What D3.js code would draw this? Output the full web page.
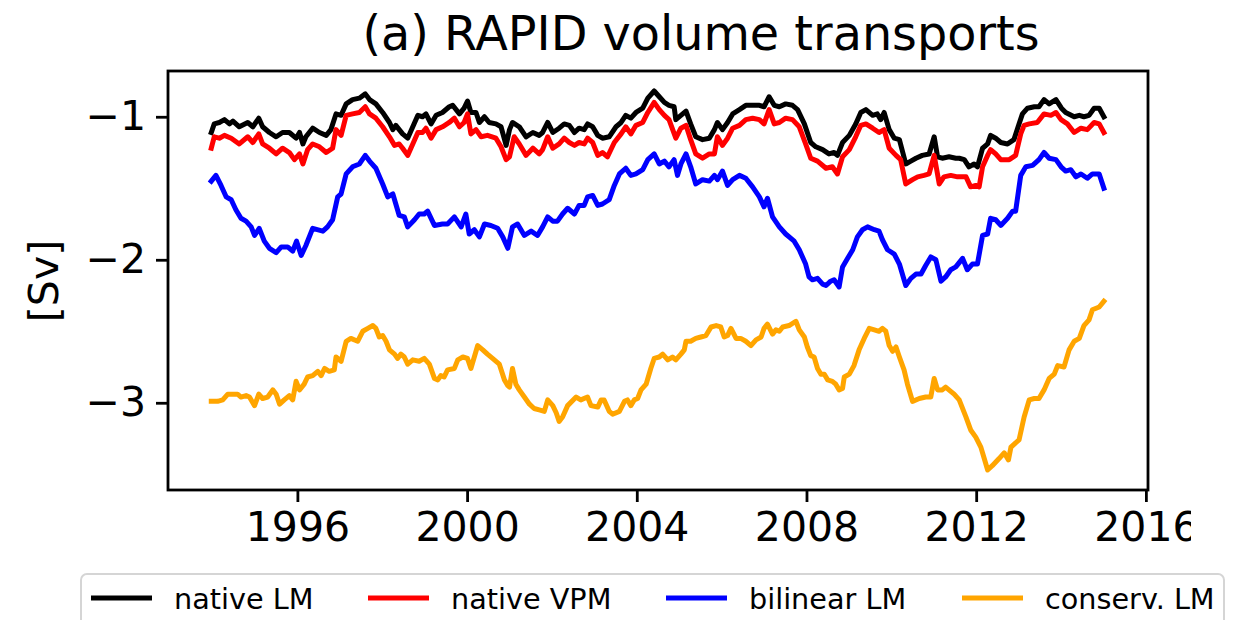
<!DOCTYPE html>
<html>
<head>
<meta charset="utf-8">
<script src="https://cdn.jsdelivr.net/npm/d3@7"></script>
<style>
  body { margin: 0; background: white; }
  text { font-family: "DejaVu Sans", sans-serif; }
</style>
</head>
<body>
<div id="main"></div>
<script>
const FIG_W = 1237;
const FIG_H = 620;

// series, [year, Sv]
var nativeLM = [[1993.97,-1.11],[1994.04,-1.05],[1994.16,-1.04],[1994.28,-1.02],[1994.40,-1.05],[1994.48,-1.03],[1994.63,-1.07],[1994.83,-1.04],[1994.95,-1.07],[1995.09,-1.01],[1995.18,-1.07],[1995.34,-1.11],[1995.50,-1.14],[1995.65,-1.11],[1995.81,-1.11],[1995.97,-1.15],[1996.05,-1.11],[1996.13,-1.19],[1996.20,-1.14],[1996.36,-1.08],[1996.52,-1.11],[1996.68,-1.13],[1996.79,-1.09],[1996.91,-0.98],[1997.03,-0.99],[1997.15,-0.91],[1997.30,-0.88],[1997.46,-0.87],[1997.60,-0.84],[1997.70,-0.88],[1997.85,-0.91],[1998.01,-0.97],[1998.17,-1.04],[1998.25,-1.09],[1998.32,-1.06],[1998.48,-1.12],[1998.60,-1.15],[1998.72,-1.07],[1998.84,-0.99],[1998.95,-1.00],[1999.03,-0.98],[1999.15,-1.05],[1999.27,-0.99],[1999.42,-0.97],[1999.58,-0.93],[1999.66,-0.92],[1999.82,-0.98],[1999.93,-0.94],[2000.01,-0.89],[2000.09,-0.97],[2000.21,-0.97],[2000.29,-1.04],[2000.41,-1.00],[2000.52,-1.04],[2000.68,-1.05],[2000.80,-1.07],[2000.92,-1.20],[2001.00,-1.09],[2001.07,-1.04],[2001.23,-1.07],[2001.39,-1.14],[2001.55,-1.11],[2001.70,-1.13],[2001.78,-1.11],[2001.90,-1.04],[2002.02,-1.11],[2002.17,-1.08],[2002.29,-1.05],[2002.41,-1.06],[2002.53,-1.11],[2002.64,-1.08],[2002.76,-1.09],[2002.84,-1.05],[2002.96,-1.07],[2003.08,-1.13],[2003.19,-1.15],[2003.35,-1.14],[2003.51,-1.07],[2003.63,-1.04],[2003.74,-0.99],[2003.86,-1.01],[2003.98,-0.97],[2004.14,-0.94],[2004.26,-0.87],[2004.41,-0.82],[2004.53,-0.86],[2004.65,-0.90],[2004.76,-0.92],[2004.88,-0.93],[2004.92,-1.02],[2005.04,-0.99],[2005.16,-0.96],[2005.27,-1.05],[2005.39,-1.14],[2005.55,-1.16],[2005.71,-1.15],[2005.83,-1.09],[2005.90,-1.04],[2006.02,-1.09],[2006.14,-1.04],[2006.26,-0.98],[2006.42,-0.95],[2006.57,-0.92],[2006.73,-0.92],[2006.89,-0.92],[2007.00,-0.93],[2007.12,-0.86],[2007.24,-0.92],[2007.36,-0.93],[2007.51,-0.91],[2007.67,-0.92],[2007.79,-0.95],[2007.95,-1.05],[2008.10,-1.18],[2008.22,-1.21],[2008.38,-1.23],[2008.53,-1.26],[2008.65,-1.25],[2008.73,-1.27],[2008.85,-1.18],[2009.01,-1.13],[2009.16,-1.05],[2009.28,-0.97],[2009.40,-0.95],[2009.56,-0.99],[2009.67,-0.98],[2009.75,-1.02],[2009.83,-0.97],[2009.95,-1.09],[2010.07,-1.15],[2010.19,-1.16],[2010.34,-1.33],[2010.46,-1.31],[2010.58,-1.29],[2010.73,-1.27],[2010.89,-1.26],[2011.01,-1.14],[2011.09,-1.28],[2011.20,-1.29],[2011.36,-1.28],[2011.52,-1.29],[2011.60,-1.29],[2011.72,-1.30],[2011.83,-1.35],[2011.95,-1.33],[2012.03,-1.35],[2012.15,-1.22],[2012.27,-1.19],[2012.34,-1.13],[2012.46,-1.15],[2012.58,-1.18],[2012.74,-1.19],[2012.89,-1.16],[2013.01,-1.05],[2013.09,-0.98],[2013.21,-0.94],[2013.37,-0.93],[2013.48,-0.93],[2013.60,-0.88],[2013.72,-0.91],[2013.88,-0.88],[2014.01,-0.94],[2014.11,-0.97],[2014.31,-1.00],[2014.43,-0.99],[2014.54,-1.00],[2014.66,-0.99],[2014.78,-0.94],[2014.90,-0.94],[2015.01,-1.00]];

var nativeVPM = [[1993.97,-1.22],[1994.04,-1.14],[1994.16,-1.15],[1994.28,-1.13],[1994.44,-1.15],[1994.63,-1.19],[1994.83,-1.14],[1994.95,-1.18],[1995.09,-1.12],[1995.18,-1.19],[1995.34,-1.22],[1995.50,-1.26],[1995.65,-1.22],[1995.81,-1.25],[1995.93,-1.30],[1996.05,-1.26],[1996.13,-1.33],[1996.24,-1.23],[1996.36,-1.19],[1996.52,-1.21],[1996.68,-1.25],[1996.83,-1.22],[1996.91,-1.09],[1997.03,-1.13],[1997.15,-0.99],[1997.30,-0.98],[1997.46,-0.97],[1997.60,-0.93],[1997.70,-0.98],[1997.85,-1.01],[1998.01,-1.07],[1998.17,-1.14],[1998.29,-1.20],[1998.40,-1.19],[1998.48,-1.22],[1998.60,-1.27],[1998.72,-1.19],[1998.84,-1.11],[1998.95,-1.11],[1999.03,-1.08],[1999.15,-1.15],[1999.27,-1.09],[1999.42,-1.07],[1999.58,-1.04],[1999.70,-1.01],[1999.82,-1.07],[1999.93,-1.04],[2000.01,-0.98],[2000.09,-1.12],[2000.21,-1.09],[2000.33,-1.14],[2000.48,-1.13],[2000.68,-1.15],[2000.80,-1.21],[2000.92,-1.30],[2001.00,-1.28],[2001.11,-1.14],[2001.23,-1.19],[2001.39,-1.27],[2001.55,-1.22],[2001.70,-1.26],[2001.78,-1.23],[2001.90,-1.14],[2002.02,-1.22],[2002.17,-1.19],[2002.29,-1.15],[2002.41,-1.18],[2002.53,-1.20],[2002.64,-1.18],[2002.76,-1.19],[2002.84,-1.15],[2002.96,-1.18],[2003.08,-1.27],[2003.19,-1.25],[2003.31,-1.28],[2003.47,-1.18],[2003.63,-1.12],[2003.74,-1.07],[2003.86,-1.12],[2003.98,-1.06],[2004.14,-1.04],[2004.26,-0.97],[2004.41,-0.90],[2004.53,-0.95],[2004.65,-0.99],[2004.76,-1.02],[2004.92,-1.15],[2005.04,-1.08],[2005.16,-1.06],[2005.27,-1.16],[2005.39,-1.26],[2005.55,-1.29],[2005.71,-1.26],[2005.83,-1.26],[2005.90,-1.14],[2006.02,-1.20],[2006.14,-1.15],[2006.26,-1.08],[2006.42,-1.06],[2006.57,-1.02],[2006.73,-1.01],[2006.89,-1.02],[2007.00,-1.05],[2007.12,-0.95],[2007.24,-1.05],[2007.36,-1.04],[2007.51,-1.01],[2007.67,-1.02],[2007.83,-1.07],[2007.98,-1.19],[2008.10,-1.29],[2008.26,-1.31],[2008.46,-1.36],[2008.61,-1.35],[2008.73,-1.40],[2008.85,-1.28],[2009.01,-1.23],[2009.16,-1.14],[2009.28,-1.06],[2009.40,-1.05],[2009.56,-1.08],[2009.71,-1.11],[2009.83,-1.09],[2009.95,-1.22],[2010.11,-1.27],[2010.22,-1.30],[2010.34,-1.47],[2010.50,-1.44],[2010.62,-1.42],[2010.77,-1.41],[2010.89,-1.40],[2011.01,-1.27],[2011.13,-1.47],[2011.24,-1.42],[2011.40,-1.41],[2011.56,-1.42],[2011.76,-1.42],[2011.87,-1.49],[2011.99,-1.48],[2012.07,-1.49],[2012.15,-1.35],[2012.27,-1.27],[2012.34,-1.23],[2012.46,-1.26],[2012.58,-1.30],[2012.78,-1.30],[2012.93,-1.27],[2013.05,-1.12],[2013.13,-1.06],[2013.25,-1.05],[2013.44,-1.04],[2013.60,-0.98],[2013.76,-0.99],[2013.88,-0.97],[2014.00,-1.02],[2014.15,-1.05],[2014.31,-1.11],[2014.47,-1.08],[2014.62,-1.09],[2014.78,-1.04],[2014.90,-1.05],[2015.01,-1.11]];

var bilinearLM = [[1993.97,-1.45],[1994.08,-1.41],[1994.20,-1.48],[1994.32,-1.56],[1994.44,-1.58],[1994.55,-1.65],[1994.67,-1.71],[1994.79,-1.73],[1994.91,-1.77],[1994.99,-1.83],[1995.10,-1.78],[1995.22,-1.87],[1995.34,-1.92],[1995.50,-1.95],[1995.62,-1.91],[1995.77,-1.91],[1995.89,-1.94],[1995.98,-1.87],[1996.09,-1.97],[1996.20,-1.90],[1996.36,-1.78],[1996.60,-1.80],[1996.71,-1.77],[1996.83,-1.72],[1996.95,-1.56],[1997.03,-1.54],[1997.15,-1.40],[1997.30,-1.35],[1997.46,-1.33],[1997.60,-1.27],[1997.70,-1.31],[1997.85,-1.36],[1998.01,-1.47],[1998.13,-1.56],[1998.25,-1.54],[1998.40,-1.69],[1998.52,-1.70],[1998.60,-1.77],[1998.76,-1.72],[1998.87,-1.68],[1998.99,-1.68],[1999.07,-1.66],[1999.23,-1.76],[1999.42,-1.75],[1999.54,-1.75],[1999.70,-1.70],[1999.86,-1.77],[1999.97,-1.68],[2000.05,-1.82],[2000.17,-1.79],[2000.29,-1.84],[2000.41,-1.75],[2000.56,-1.76],[2000.72,-1.78],[2000.84,-1.84],[2000.96,-1.92],[2001.07,-1.77],[2001.19,-1.75],[2001.35,-1.83],[2001.51,-1.80],[2001.66,-1.83],[2001.78,-1.77],[2001.90,-1.70],[2002.02,-1.73],[2002.13,-1.73],[2002.25,-1.68],[2002.37,-1.64],[2002.53,-1.68],[2002.64,-1.62],[2002.76,-1.62],[2002.84,-1.56],[2002.96,-1.55],[2003.08,-1.62],[2003.19,-1.61],[2003.35,-1.58],[2003.47,-1.48],[2003.59,-1.40],[2003.74,-1.36],[2003.86,-1.41],[2003.98,-1.40],[2004.14,-1.37],[2004.26,-1.30],[2004.41,-1.26],[2004.53,-1.33],[2004.65,-1.31],[2004.76,-1.35],[2004.88,-1.30],[2004.96,-1.41],[2005.04,-1.33],[2005.16,-1.26],[2005.27,-1.35],[2005.39,-1.47],[2005.55,-1.44],[2005.71,-1.45],[2005.83,-1.41],[2005.90,-1.44],[2006.02,-1.38],[2006.14,-1.48],[2006.26,-1.44],[2006.42,-1.41],[2006.57,-1.43],[2006.73,-1.49],[2006.89,-1.56],[2007.00,-1.63],[2007.08,-1.57],[2007.20,-1.70],[2007.36,-1.77],[2007.51,-1.82],[2007.71,-1.87],[2007.83,-1.93],[2007.98,-2.03],[2008.06,-2.12],[2008.14,-2.14],[2008.26,-2.13],[2008.38,-2.17],[2008.46,-2.18],[2008.57,-2.15],[2008.65,-2.14],[2008.77,-2.19],[2008.85,-2.05],[2008.97,-1.99],[2009.09,-1.93],[2009.20,-1.84],[2009.32,-1.79],[2009.44,-1.77],[2009.60,-1.79],[2009.71,-1.80],[2009.79,-1.86],[2009.91,-1.93],[2010.07,-1.96],[2010.19,-2.03],[2010.34,-2.18],[2010.46,-2.13],[2010.58,-2.10],[2010.70,-2.10],[2010.81,-2.04],[2010.93,-1.98],[2011.05,-2.00],[2011.17,-2.15],[2011.28,-2.12],[2011.40,-2.07],[2011.52,-2.05],[2011.68,-1.99],[2011.79,-2.07],[2011.91,-2.03],[2012.03,-2.03],[2012.15,-1.83],[2012.27,-1.82],[2012.34,-1.71],[2012.46,-1.72],[2012.58,-1.76],[2012.74,-1.71],[2012.86,-1.66],[2012.93,-1.66],[2013.05,-1.41],[2013.17,-1.35],[2013.33,-1.34],[2013.48,-1.30],[2013.60,-1.25],[2013.72,-1.29],[2013.88,-1.30],[2014.00,-1.35],[2014.11,-1.38],[2014.23,-1.37],[2014.35,-1.42],[2014.47,-1.40],[2014.62,-1.43],[2014.74,-1.40],[2014.90,-1.40],[2015.01,-1.50]];

var conservLM = [[1993.97,-2.99],[1994.12,-2.99],[1994.24,-2.98],[1994.36,-2.94],[1994.48,-2.94],[1994.59,-2.94],[1994.67,-2.96],[1994.79,-2.95],[1994.87,-2.96],[1994.99,-3.02],[1995.09,-2.94],[1995.18,-2.97],[1995.30,-2.96],[1995.42,-2.91],[1995.50,-2.94],[1995.58,-3.01],[1995.69,-2.98],[1995.81,-2.95],[1995.89,-2.98],[1995.97,-2.85],[1996.05,-2.91],[1996.16,-2.87],[1996.24,-2.82],[1996.36,-2.81],[1996.48,-2.78],[1996.56,-2.81],[1996.64,-2.76],[1996.75,-2.78],[1996.87,-2.77],[1996.91,-2.68],[1997.03,-2.71],[1997.15,-2.57],[1997.26,-2.55],[1997.42,-2.57],[1997.54,-2.50],[1997.66,-2.48],[1997.78,-2.46],[1997.85,-2.48],[1997.93,-2.54],[1998.01,-2.53],[1998.09,-2.57],[1998.17,-2.63],[1998.29,-2.66],[1998.36,-2.69],[1998.44,-2.66],[1998.52,-2.68],[1998.60,-2.73],[1998.72,-2.70],[1998.87,-2.71],[1998.99,-2.69],[1999.11,-2.73],[1999.23,-2.83],[1999.31,-2.84],[1999.38,-2.81],[1999.46,-2.82],[1999.54,-2.77],[1999.70,-2.76],[1999.78,-2.70],[1999.90,-2.68],[2000.01,-2.69],[2000.09,-2.76],[2000.25,-2.60],[2000.37,-2.63],[2000.48,-2.66],[2000.60,-2.69],[2000.76,-2.73],[2000.88,-2.84],[2000.96,-2.88],[2001.00,-2.89],[2001.07,-2.76],[2001.15,-2.87],[2001.23,-2.91],[2001.35,-2.96],[2001.47,-3.01],[2001.58,-3.04],[2001.70,-3.05],[2001.82,-3.06],[2001.90,-2.98],[2002.02,-3.02],[2002.10,-3.07],[2002.17,-3.13],[2002.25,-3.10],[2002.37,-3.02],[2002.57,-2.96],[2002.68,-2.98],[2002.84,-2.96],[2002.92,-3.02],[2003.08,-3.03],[2003.16,-2.98],[2003.23,-2.98],[2003.35,-3.06],[2003.43,-3.08],[2003.59,-3.06],[2003.71,-2.99],[2003.78,-2.98],[2003.86,-3.02],[2003.94,-2.98],[2004.02,-2.97],[2004.10,-2.91],[2004.22,-2.87],[2004.33,-2.76],[2004.41,-2.69],[2004.53,-2.68],[2004.61,-2.66],[2004.73,-2.70],[2004.84,-2.68],[2004.92,-2.70],[2005.04,-2.66],[2005.12,-2.63],[2005.16,-2.57],[2005.27,-2.57],[2005.39,-2.55],[2005.51,-2.54],[2005.63,-2.53],[2005.75,-2.47],[2005.87,-2.46],[2005.98,-2.47],[2006.06,-2.54],[2006.14,-2.53],[2006.22,-2.48],[2006.34,-2.55],[2006.45,-2.55],[2006.57,-2.57],[2006.69,-2.60],[2006.81,-2.56],[2006.93,-2.54],[2007.00,-2.48],[2007.08,-2.45],[2007.20,-2.52],[2007.28,-2.49],[2007.36,-2.50],[2007.44,-2.47],[2007.59,-2.46],[2007.75,-2.43],[2007.83,-2.49],[2007.95,-2.54],[2008.02,-2.61],[2008.10,-2.67],[2008.18,-2.68],[2008.26,-2.76],[2008.34,-2.80],[2008.42,-2.80],[2008.50,-2.84],[2008.61,-2.85],[2008.69,-2.87],[2008.77,-2.91],[2008.85,-2.90],[2008.89,-2.82],[2009.01,-2.80],[2009.12,-2.74],[2009.24,-2.63],[2009.36,-2.55],[2009.48,-2.48],[2009.60,-2.49],[2009.71,-2.50],[2009.79,-2.48],[2009.87,-2.50],[2009.95,-2.60],[2010.03,-2.64],[2010.11,-2.61],[2010.19,-2.68],[2010.30,-2.77],[2010.38,-2.87],[2010.50,-2.99],[2010.66,-2.97],[2010.81,-2.96],[2010.93,-2.96],[2011.01,-2.83],[2011.09,-2.91],[2011.20,-2.91],[2011.28,-2.89],[2011.40,-2.92],[2011.48,-2.94],[2011.60,-2.98],[2011.76,-3.10],[2011.87,-3.19],[2011.99,-3.24],[2012.11,-3.31],[2012.19,-3.39],[2012.27,-3.47],[2012.38,-3.44],[2012.54,-3.39],[2012.66,-3.35],[2012.76,-3.40],[2012.82,-3.31],[2012.93,-3.28],[2013.01,-3.26],[2013.13,-3.10],[2013.25,-2.98],[2013.37,-2.97],[2013.48,-2.97],[2013.60,-2.91],[2013.72,-2.83],[2013.84,-2.80],[2013.92,-2.74],[2014.07,-2.75],[2014.19,-2.63],[2014.31,-2.57],[2014.43,-2.55],[2014.54,-2.46],[2014.66,-2.42],[2014.74,-2.35],[2014.90,-2.33],[2015.01,-2.29]];

var seriesNames = ["native LM", "native VPM", "bilinear LM", "conserv. LM"];
var seriesColors = ["#000000", "#ff0000", "#0000ff", "#ffa500"];
var xTicks = [1996, 2000, 2004, 2008, 2012, 2016];
var yTicks = [-1, -2, -3];

var ctx = {
    left: 168, right: 1148, top: 71, bottom: 490,
    lineW: 5,
};

var drawChart = function(svgEl){
    var x = d3.scaleLinear().domain([1992.95, 2016.05]).range([ctx.left, ctx.right]);
    var y = d3.scaleLinear().domain([-3.61, -0.68]).range([ctx.bottom, ctx.top]);

    var line = d3.line()
                 .x(function(d){ return x(d[0]); })
                 .y(function(d){ return y(d[1]); });

    // the original figure is cropped just right of the last tick label
    svgEl.append("clipPath").attr("id", "crop")
         .append("rect").attr("x", 0).attr("y", 0).attr("width", 1191).attr("height", FIG_H);

    var all = [nativeLM, nativeVPM, bilinearLM, conservLM];
    svgEl.append("g").selectAll("path")
         .data(all)
         .enter()
         .append("path")
         .attr("d", line)
         .attr("fill", "none")
         .attr("stroke", function(d, i){ return seriesColors[i]; })
         .attr("stroke-width", ctx.lineW)
         .attr("stroke-linejoin", "round")
         .attr("stroke-linecap", "square");

    // axes frame
    svgEl.append("rect")
         .attr("x", ctx.left).attr("y", ctx.top)
         .attr("width", ctx.right - ctx.left)
         .attr("height", ctx.bottom - ctx.top)
         .attr("fill", "none")
         .attr("stroke", "black")
         .attr("stroke-width", 2.8);

    var yAxis = svgEl.append("g")
        .attr("transform", "translate(" + ctx.left + ",0)")
        .call(d3.axisLeft(y).tickValues(yTicks).tickSize(12).tickPadding(10).tickFormat(d3.format("d")));
    var xAxis = svgEl.append("g")
        .attr("clip-path", "url(#crop)")
        .append("g")
        .attr("transform", "translate(0," + ctx.bottom + ")")
        .call(d3.axisBottom(x).tickValues(xTicks).tickSize(12).tickPadding(10).tickFormat(d3.format("d")));

    [xAxis, yAxis].forEach(function(ax){
        ax.select(".domain").remove();
        ax.selectAll(".tick line").attr("stroke", "black").attr("stroke-width", 2.8);
        ax.selectAll(".tick text")
          .attr("fill", "black")
          .style("font-family", "DejaVu Sans")
          .style("font-size", "41px");
    });

    svgEl.append("text")
         .attr("transform", "translate(58,281) rotate(-90)")
         .attr("text-anchor", "middle")
         .style("font-size", "41px")
         .text("[Sv]");

    svgEl.append("text")
         .attr("x", 701).attr("y", 50)
         .attr("text-anchor", "middle")
         .style("font-size", "47.7px")
         .text("(a) RAPID volume transports");

    // legend
    var lg = svgEl.append("g");
    lg.append("rect")
      .attr("x", 81).attr("y", 574)
      .attr("width", 1143).attr("height", 70)
      .attr("rx", 6)
      .attr("fill", "white")
      .attr("stroke", "#d5d5d5")
      .attr("stroke-width", 2);
    var itemX = [91, 368, 666, 962];
    var items = lg.selectAll("g.item")
        .data(seriesNames)
        .enter()
        .append("g")
        .attr("class", "item")
        .attr("transform", function(d, i){ return "translate(" + itemX[i] + ",598)"; });
    items.append("line")
         .attr("x1", 0).attr("x2", 61)
         .attr("stroke", function(d, i){ return seriesColors[i]; })
         .attr("stroke-width", ctx.lineW);
    items.append("text")
         .attr("x", 83).attr("y", 11)
         .style("font-size", "28.7px")
         .text(function(d){ return d; });
};

var createViz = function(){
    var svgEl = d3.select("#main").append("svg");
    svgEl.attr("width", FIG_W);
    svgEl.attr("height", FIG_H);
    drawChart(svgEl);
};

createViz();
</script>
</body>
</html>
